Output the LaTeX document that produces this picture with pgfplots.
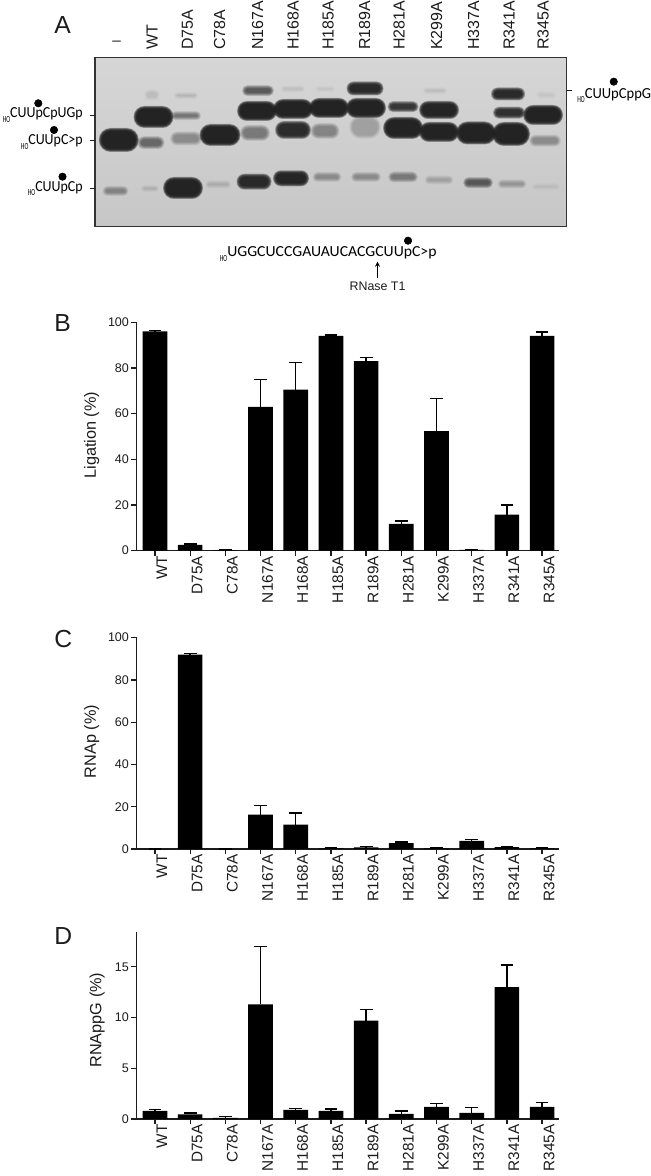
\documentclass[border=0pt]{standalone}
\usepackage{fontspec}
\usepackage{graphicx}
\usepackage{pgfplots}
\pgfplotsset{compat=1.18}
\setmainfont{Liberation Sans}
\newfontfamily\narrowf{Carlito}
\definecolor{axc}{HTML}{1C1C1C}
\definecolor{gelband}{HTML}{1E1E1E}
\pgfdeclareplotmark{band}{}
\newcommand{\hosub}{\raisebox{-0.28em}{\scalebox{0.62}[1]{\fontsize{7}{7}\selectfont HO}}}
\newcommand{\gl}[2][1]{{\narrowf\fontsize{11.5}{12}\selectfont \hosub\scalebox{#1}[1]{#2}}}
\tikzset{ylab/.style={rotate=90,anchor=center,font=\fontsize{12.2}{14}\selectfont,color=axc}}
\pgfplotsset{
  barpanel/.style={
    scale only axis, width=317pt,
    xmin=-0.52, xmax=11.49, ymin=0,
    axis x line*=bottom, axis y line*=left,
    axis line style={line width=1.05pt,color=axc,-},
    tick style={line width=0.95pt,color=axc},
    major tick length=3.9pt,
    tick align=outside,
    xtick={0,...,11},
    xticklabels={WT,D75A,C78A,N167A,H168A,H185A,R189A,H281A,K299A,H337A,R341A,R345A},
    xticklabel style={rotate=90,anchor=east,font=\fontsize{11.5}{12}\selectfont,color=axc,inner sep=0pt,xshift=0pt,yshift=-5.2pt},
    yticklabel style={font=\fontsize{9.4}{11}\selectfont,color=axc,inner sep=0pt,xshift=-1.7pt},
    /pgf/number format/assume math mode=true,
    clip=false,
  },
  barplot/.style={
    ybar, bar width=18.5pt, bar shift=0pt, fill=black, draw=none,
    error bars/.cd, y dir=plus, y explicit,
    error bar style={line width=1.05pt,color=black},
    error mark options={rotate=90,line width=1.05pt,mark size=4.8pt,color=black},
  },
}
\begin{document}
\begin{tikzpicture}
\useasboundingbox (0,0) rectangle (487.5pt,-882pt);
% ---------- Panel A : image-pixel coordinates ----------
\begin{axis}[
  at={(71.25pt,-169.7pt)}, anchor=south west,
  scale only axis, width=353.8pt, height=126.75pt,
  xmin=95, xmax=566.7, ymin=57.3, ymax=226.3, y dir=reverse,
  ticks=none, clip=false,
  axis line style={line width=1.05pt,color=black!80},
  axis background/.style={top color=black!16,bottom color=black!22},
]
\addplot[scatter, only marks, mark=band,
  visualization depends on={\thisrow{hw} \as \bhw},
  visualization depends on={\thisrow{hh} \as \bhh},
  visualization depends on={\thisrow{d} \as \bd},
  scatter/@pre marker code/.code={\pgfscope
    \pgfmathsetmacro\dd{\bd*0.62}
    \pgfsetfillcolor{gelband}\pgfsetfillopacity{\dd}
    \foreach \oo in {2,1.5,1,0.5,0,-0.5,-1,-1.5}{
      \pgfmathsetmacro\ax{max(\bhw+\oo,0.5)*0.75}
      \pgfmathsetmacro\bx{max(\bhh+\oo,0.4)*0.75}
      \pgfmathsetmacro\rx{\bx*0.98}
      \pgfscope
      \pgfsetcornersarced{\pgfpoint{\rx pt}{\rx pt}}
      \pgfpathrectanglecorners{\pgfpoint{-\ax pt}{-\bx pt}}{\pgfpoint{\ax pt}{\bx pt}}
      \pgfusepath{fill}
      \endpgfscope
    }},
  scatter/@post marker code/.code={\endpgfscope},
] table {
x y hw hh d
118.75 140 18 10 0.55
115.5 191 11 3 0.1
153.5 117 18 9 0.55
151 142.7 11.5 4.5 0.16
152 95 6 3.5 0.025
150 188.5 7 1.5 0.03
183 188 18 9 0.55
186 138.5 14 5 0.09
186 115.7 13 2.5 0.13
186 95.7 10 1.5 0.03
220 135 18.5 9 0.55
218 184.5 11 2 0.04
258 90.7 14 3.5 0.2
257 111 18 8 0.55
255 133 13 6 0.12
254 181.7 15.5 6 0.45
293 89 10 1.5 0.02
293 109 18 8 0.55
293 130 16 7 0.42
291 178.3 16 6 0.5
325 89 8 1.5 0.015
329 108 18 8 0.55
325 131 12.5 6 0.1
327 177 12.5 3 0.09
365 88.5 16.5 5 0.45
366 108 18 8 0.55
365 127 14 10 0.06
366 177 13 3 0.09
403 106.7 13.5 3.5 0.35
403 128 18 9 0.55
403 177 13 3.5 0.12
435 90.7 10 1.5 0.025
439 110 18 7 0.5
439 132 18 8 0.55
439 180 12.5 2.5 0.05
476 133 18 9.5 0.55
478 182.7 13 3.5 0.2
508 94 15 4.5 0.45
509 112.7 14 4 0.4
511 134 17 10 0.55
512 184 12.5 2.5 0.07
543 115 18 8 0.55
545 140.7 14 4 0.09
546 186.7 12 1.5 0.02
546 95 8 2 0.012
};
% bound dots
\addplot[only marks, mark=*, mark size=2.8pt, color=black] coordinates {(38.3,103.3) (54,130) (62.5,176.7) (613.7,81.7) (408,240.7)};
% lane labels
\foreach \lx/\lt in {152/WT,187.5/D75A,219.6/C78A,257.5/N167A,293/H168A,328/H185A,364.6/R189A,399/H281A,436.7/K299A,473.7/H337A,509/R341A,543/R345A}{
  \edef\tmp{\noexpand\node[rotate=90,anchor=west,inner sep=0pt,font=\noexpand\fontsize{12}{14}\noexpand\selectfont,color=axc] at (axis cs:\lx,50) {\lt};}\tmp
}
\node[inner sep=0pt,font=\fontsize{11.5}{13}\selectfont,color=axc] at (axis cs:116.7,43) {--};
% panel letters
\node[anchor=base west,inner sep=0pt,font=\fontsize{18.5}{20}\selectfont,color=axc] at (axis cs:54,34) {A};
\node[anchor=base west,inner sep=0pt,font=\fontsize{18.5}{20}\selectfont,color=axc] at (axis cs:54,332) {B};
\node[anchor=base west,inner sep=0pt,font=\fontsize{18.5}{20}\selectfont,color=axc] at (axis cs:54,648) {C};
\node[anchor=base west,inner sep=0pt,font=\fontsize{18.5}{20}\selectfont,color=axc] at (axis cs:54,945) {D};
% species labels
\node[anchor=base east,inner sep=0pt] at (axis cs:83,118) {\gl[0.91]{CUUpCpUGp}};
\node[anchor=base east,inner sep=0pt] at (axis cs:83,145) {\gl[0.91]{CUUpC>p}};
\node[anchor=base east,inner sep=0pt] at (axis cs:83,191.7) {\gl[0.91]{CUUpCp}};
\node[anchor=base west,inner sep=0pt] at (axis cs:577,98.3) {\gl[0.95]{CUUpCppG}};
\node[anchor=base west,inner sep=0pt] at (axis cs:219.6,257) {\gl[1.025]{UGGCUCCGAUAUCACGCUUpC>p}};
\draw[line width=0.6pt,color=axc] (axis cs:89.6,115.3) -- (axis cs:95,115.3);
\draw[line width=0.6pt,color=axc] (axis cs:89.6,140.7) -- (axis cs:95,140.7);
\draw[line width=0.6pt,color=axc] (axis cs:89.6,188.3) -- (axis cs:95,188.3);
\draw[line width=0.6pt,color=axc] (axis cs:566.7,90.7) -- (axis cs:572,90.7);
\draw[-stealth,line width=0.7pt,color=black] (axis cs:377.5,278) -- (axis cs:377.5,261.7);
\node[inner sep=0pt,font=\fontsize{9.3}{11}\selectfont,color=axc] at (axis cs:377.5,286) {RNase T1};
\end{axis}
% ---------- Panel B ----------
\begin{axis}[barpanel,
  at={(102.5pt,-413pt)}, anchor=south west, height=171.3pt,
  ymax=100, ytick={0,20,40,60,80,100},
  ylabel={Ligation (\%)},
  every axis y label/.style={at={(axis cs:-1.8,50.6)},ylab},
]
\addplot[barplot] table[y error=e] {
x y e
0 96 0.3
1 2.5 0.5
2 0.2 0.2
3 63 12
4 70.5 12
5 94 0.5
6 83 1.7
7 11.7 1.3
8 52.3 14.2
9 0.3 0.3
10 15.8 4.2
11 94 1.7
};
\end{axis}
% ---------- Panel C ----------
\begin{axis}[barpanel,
  at={(102.5pt,-636.75pt)}, anchor=south west, height=158.5pt,
  ymax=100, ytick={0,20,40,60,80,100},
  ylabel={RNAp (\%)},
  every axis y label/.style={at={(axis cs:-1.8,50.8)},ylab},
]
\addplot[barplot] table[y error=e] {
x y e
0 0 0
1 92 0.4
2 0 0
3 16.3 4.2
4 11.5 5.5
5 0.3 0.2
6 0.8 0.3
7 2.8 0.5
8 0.3 0.2
9 3.8 0.8
10 0.9 0.4
11 0.3 0.2
};
\end{axis}
% ---------- Panel D ----------
\begin{axis}[barpanel,
  at={(102.5pt,-839.25pt)}, anchor=south west, height=140pt,
  ymax=18.4, ytick={0,5,10,15},
  ylabel={RNAppG (\%)},
  every axis y label/.style={at={(axis cs:-1.64,9.75)},ylab},
]
\addplot[barplot] table[y error=e] {
x y e
0 0.8 0.15
1 0.45 0.15
2 0.12 0.1
3 11.3 5.7
4 0.9 0.15
5 0.8 0.2
6 9.7 1.1
7 0.5 0.3
8 1.2 0.35
9 0.6 0.55
10 13 2.2
11 1.2 0.45
};
\end{axis}
\end{tikzpicture}
\end{document}
